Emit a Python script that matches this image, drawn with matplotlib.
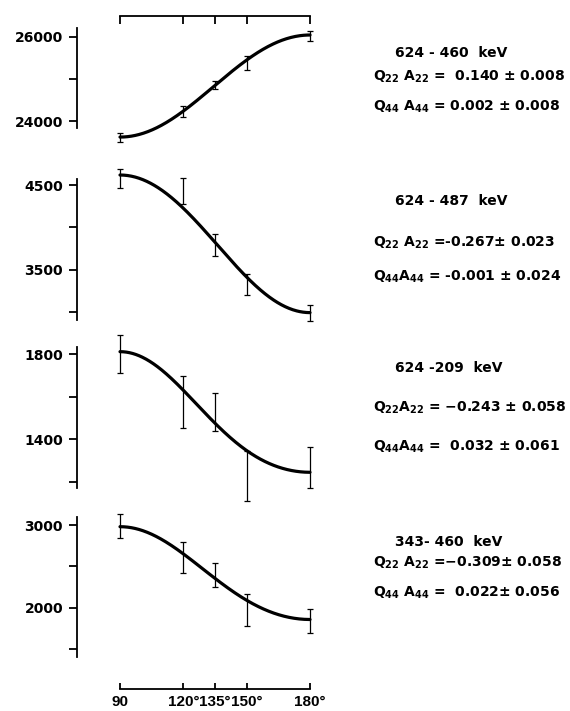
import numpy as np
import matplotlib
matplotlib.use("Agg")
import matplotlib.pyplot as plt

plt.rcParams['font.family'] = ['DejaVu Sans']
plt.rcParams['font.weight'] = 'bold'
plt.rcParams['mathtext.fontset'] = 'custom'
plt.rcParams['mathtext.rm'] = 'DejaVu Sans:bold'
plt.rcParams['mathtext.it'] = 'DejaVu Sans:bold'
plt.rcParams['mathtext.bf'] = 'DejaVu Sans:bold'
plt.rcParams['mathtext.default'] = 'rm'

# ---------------- data ----------------
angles = [90, 120, 135, 150, 180]
angle_labels = ["90", "120°", "135°", "150°", "180°"]

# 624-460 keV
p1_counts = [23605, 24220, 24851, 25380, 26016]
p1_err = [100, 130, 100, 160, 125]
# 624-487 keV
p2_counts = [4573, 4427, 3792, 3327, 2992]
p2_err = [112, 151, 134, 126, 90]
# 624-209 keV
p3_counts = [1800, 1576, 1529, 1226, 1267]
p3_err = [90, 122, 90, 116, 95]
# 343-460 keV
p4_counts = [2988, 2609, 2396, 1978, 1845]
p4_err = [141, 185, 141, 191, 147]

# fitted curves W = c0 + c2 cos^2 + c4 cos^4
fit_c0 = [23620, 4618, 1812, 2980]
fit_c2 = [2480, -1550, -780, -1376]
fit_c4 = [-60, -72, 212, 256]

# y ticks / labels per panel
p1_ticks = [24000, 25000, 26000]; p1_labels = ["24000", "", "26000"]
p2_ticks = [3000, 3500, 4000, 4500]; p2_labels = ["", "3500", "", "4500"]
p3_ticks = [1200, 1400, 1600, 1800]; p3_labels = ["", "1400", "", "1800"]
p4_ticks = [1500, 2000, 2500, 3000]; p4_labels = ["", "2000", "", "3000"]

transitions = ["624 - 460  keV", "624 - 487  keV", "624 -209  keV", "343- 460  keV"]
q22_lines = ["Q$_{22}$ A$_{22}$ =  0.140 ± 0.008",
             "Q$_{22}$ A$_{22}$ =-0.267± 0.023",
             "Q$_{22}$A$_{22}$ = −0.243 ± 0.058",
             "Q$_{22}$ A$_{22}$ =−0.309± 0.058"]
q44_lines = ["Q$_{44}$ A$_{44}$ = 0.002 ± 0.008",
             "Q$_{44}$A$_{44}$ = -0.001 ± 0.024",
             "Q$_{44}$A$_{44}$ =  0.032 ± 0.061",
             "Q$_{44}$ A$_{44}$ =  0.022± 0.056"]

# ---------------- layout ----------------
W, H = 570, 711
fig = plt.figure(figsize=(W / 100, H / 100), dpi=100)

x0_px, x1_px = 120, 310
spine_px = [(28, 128), (179, 320), (347, 488), (517, 656.7)]
ylims = [(23835, 26206), (2909, 4571), (1170, 1834), (1411, 3097)]
text_y = [(53, 77, 107), (201, 243, 277), (368, 408, 447), (542, 563, 593)]

counts = [p1_counts, p2_counts, p3_counts, p4_counts]
errs = [p1_err, p2_err, p3_err, p4_err]
ticks = [p1_ticks, p2_ticks, p3_ticks, p4_ticks]
tlabels = [p1_labels, p2_labels, p3_labels, p4_labels]

theta = np.linspace(90, 180, 300)
c2 = np.cos(np.radians(theta)) ** 2

axes = []
for i in range(4):
    top, bot = spine_px[i]
    ax = fig.add_axes([x0_px / W, 1 - bot / H, (x1_px - x0_px) / W, (bot - top) / H])
    ax.set_facecolor('none')
    ax.set_xlim(90, 180)
    ax.set_ylim(*ylims[i])
    for s in ['right', 'top', 'bottom']:
        ax.spines[s].set_visible(False)
    ax.spines['left'].set_position(('outward', 43 * 0.72))
    ax.spines['left'].set_linewidth(1.3)
    ax.set_yticks(ticks[i])
    ax.set_yticklabels(tlabels[i], fontsize=10, fontweight='bold')
    ax.tick_params(axis='y', direction='out', length=5.5, width=1.3, pad=4.5)
    ax.set_xticks([])
    curve = fit_c0[i] + fit_c2[i] * c2 + fit_c4[i] * c2 ** 2
    ax.plot(theta, curve, color='black', lw=2.3, clip_on=False, solid_capstyle='round')
    ax.errorbar(angles, counts[i], yerr=errs[i], fmt='none', ecolor='black',
                elinewidth=0.9, capsize=2.3, capthick=0.9, clip_on=False)
    axes.append(ax)

    ty = text_y[i]
    fig.text(395 / W, 1 - ty[0] / H, transitions[i], fontsize=10, fontweight='bold',
             ha='left', va='center')
    fig.text(373 / W, 1 - ty[1] / H, q22_lines[i], fontsize=10, fontweight='bold',
             ha='left', va='center')
    fig.text(373 / W, 1 - ty[2] / H, q44_lines[i], fontsize=10, fontweight='bold',
             ha='left', va='center')

# top angle frame
axt = axes[0]
axt.spines['top'].set_visible(True)
axt.spines['top'].set_position(('outward', 12.3 * 0.72))
axt.spines['top'].set_linewidth(1.3)
axt.xaxis.set_ticks_position('top')
axt.set_xticks(angles)
axt.set_xticklabels([])
axt.tick_params(axis='x', direction='in', length=5.5, width=1.3)

# bottom angle axis
axb = axes[3]
axb.spines['bottom'].set_visible(True)
axb.spines['bottom'].set_position(('outward', 32.3 * 0.72))
axb.spines['bottom'].set_linewidth(1.3)
axb.set_xticks(angles)
axb.set_xticklabels(angle_labels, fontsize=11, fontweight='bold',
                    family=['Liberation Sans', 'DejaVu Sans'])
axb.tick_params(axis='x', direction='in', length=4.5, width=1.3, pad=4)

fig.savefig("out.png", dpi=100)
